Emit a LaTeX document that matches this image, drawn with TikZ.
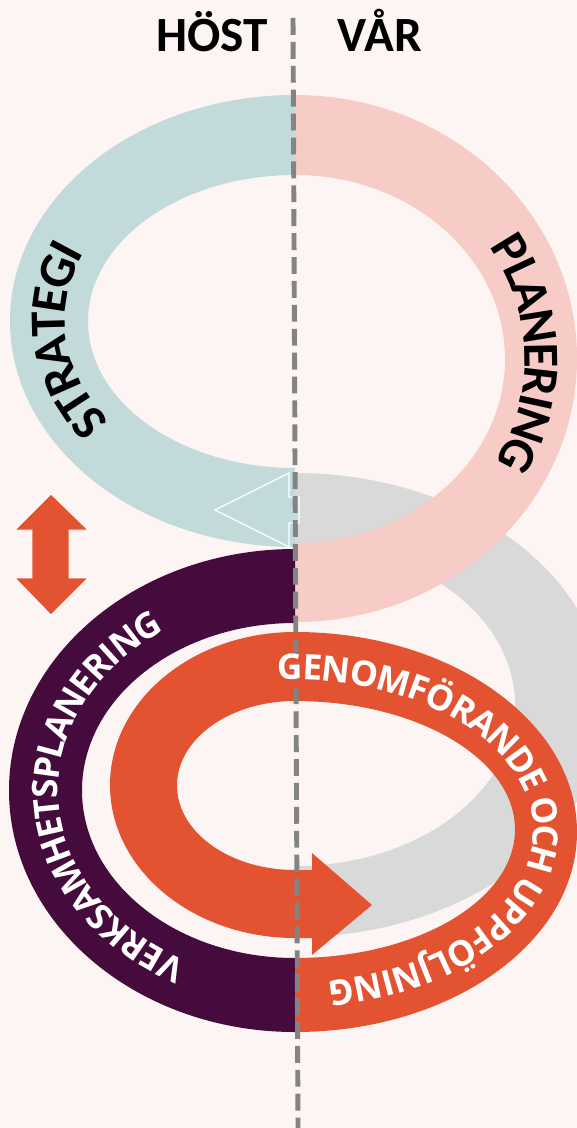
\documentclass[tikz,border=0pt]{standalone}
\usepackage{fontspec}
\setmainfont{Carlito}
\newfontfamily\opensans{Open Sans}
\usetikzlibrary{decorations.text}
\definecolor{bgpink}{HTML}{FDF5F3}
\definecolor{tealring}{HTML}{C2DADA}
\definecolor{pinkring}{HTML}{F7CCC6}
\definecolor{grayring}{HTML}{D9D9D9}
\definecolor{purplering}{HTML}{450B3D}
\definecolor{orangering}{HTML}{E35332}
\definecolor{dashgray}{HTML}{838383}

\begin{document}
\begin{tikzpicture}[x=0.025cm, y=0.025cm]
	\tikzstyle{darkring}=[decorate, decoration={text along path, text align=center, raise=-11.5pt}]
	\tikzstyle{lightring}=[decorate, decoration={text along path, text align=center, raise=-9pt}]
	\fill[bgpink] (0,0) rectangle (577,-1128);
	\useasboundingbox (0,0) rectangle (577,-1128);
	% back ring
	\fill[grayring] (295,-473) arc[start angle=90, end angle=-90, x radius=310, y radius=232] -- (295,-866) arc[start angle=-90, end angle=90, x radius=220, y radius=161.5] -- cycle;
	% upper ring
	\fill[tealring] (295,-95) arc[start angle=90, end angle=270, x radius=285, y radius=226] -- (295,-468) arc[start angle=270, end angle=90, x radius=207, y radius=146.5] -- cycle;
	\fill[pinkring] (295,-95) arc[start angle=90, end angle=-90, x radius=282, y radius=263.5] -- (295,-543) arc[start angle=-90, end angle=90, x radius=210, y radius=184] -- cycle;
	\draw[white, fill=tealring, line width=0.9pt] (299,-497) -- (289,-497) -- (289,-473) -- (215,-510) -- (289,-547) -- (289,-523) -- (299,-523) -- cycle;
	% lower ring
	\fill[purplering] (295,-549) arc[start angle=90, end angle=270, x radius=286, y radius=241.5] -- (295,-958) arc[start angle=270, end angle=90, x radius=213, y radius=167.5] -- cycle;
	\fill[orangering] (295,-1032) arc[start angle=-90, end angle=90, x radius=282, y radius=200]
		arc[start angle=90, end angle=270, x radius=185, y radius=153]
		-- (312,-938) -- (312,-955) -- (372,-905) -- (312,-853) -- (312,-870) -- (295,-870)
		arc[start angle=270, end angle=90, x radius=118, y radius=84.5]
		arc[start angle=90, end angle=-90, x radius=220, y radius=128.5] -- cycle;
	% double arrow
	\draw[white, fill=orangering, line width=0.6pt] (51,-494) -- (88,-530) -- (69,-530) -- (69,-578) -- (88,-578) -- (51,-615) -- (15,-578) -- (32,-578) -- (32,-530) -- (15,-530) -- cycle;
	% divider
	\draw[dashgray, line width=3.5pt, dash pattern=on 12pt off 5pt] (293,-18) -- (298,-1128);
	% labels
	\node[anchor=base, font=\bfseries\fontsize{35}{35}\selectfont] (host) at (212,-52) {HÖST};
	\node[anchor=base, font=\bfseries\fontsize{35}{35}\selectfont] (var) at (380,-52) {VÅR};
	\path[darkring, decoration={text={|\bfseries\fontsize{36}{36}\selectfont|STRATEGI}}] (295,-321) ++(228:246 and 186) arc[start angle=228, end angle=144, x radius=246, y radius=186];
	\path[darkring, decoration={text={|\bfseries\fontsize{36}{36}\selectfont|PLANERING}}] (295,-359) ++(42:246 and 224) arc[start angle=42, end angle=-39, x radius=246, y radius=224];
	\path[lightring, decoration={text={|\opensans\bfseries\fontsize{25}{25}\selectfont\color{white}|VERKSAMHETSPLANERING}}] (295,-790.5) ++(250:249.5 and 204.5) arc[start angle=250, end angle=116, x radius=249.5, y radius=204.5];
	\path[lightring, decoration={text={|\opensans\bfseries\fontsize{25}{25}\selectfont\color{white}|GENOMFÖRANDE OCH UPPFÖLJNING}}] (295,-831) ++(110:251 and 164) arc[start angle=110, end angle=-98, x radius=251, y radius=164];
\end{tikzpicture}
\end{document}
